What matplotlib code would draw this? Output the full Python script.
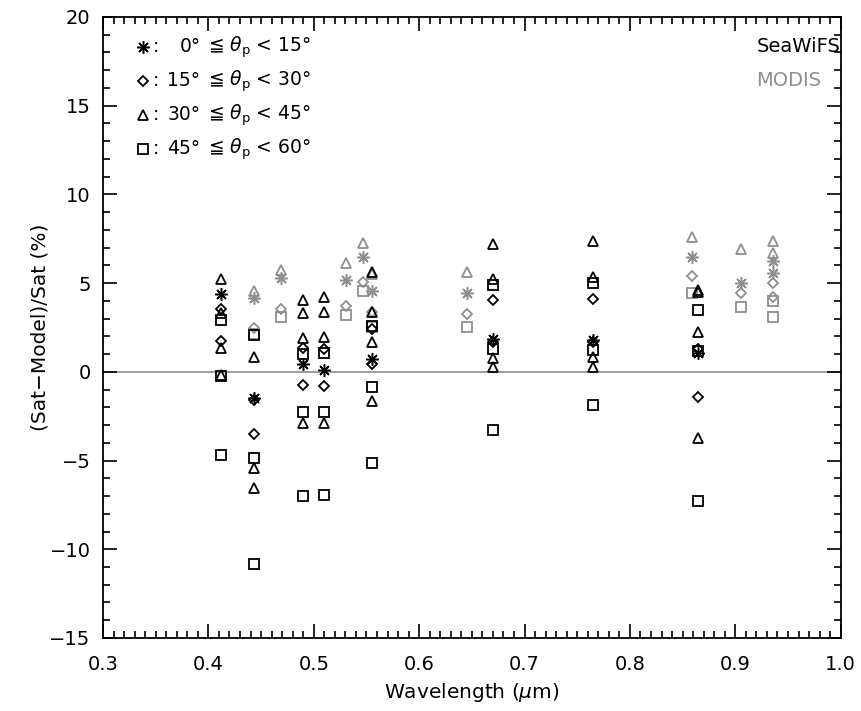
import matplotlib
matplotlib.use("Agg")
import matplotlib.pyplot as plt
from matplotlib.ticker import MultipleLocator

plt.rcParams['font.family'] = ['DejaVu Sans']
plt.rcParams['mathtext.fontset'] = 'dejavusans'

# ---------------- data ----------------
# SeaWiFS (black)
sea_star_wl = [0.412, 0.443, 0.490, 0.510, 0.555, 0.670, 0.765, 0.865]
sea_star_val = [4.4, -1.45, 0.45, 0.1, 0.7, 1.84, 1.8, 1.05]

sea_diam_wl = [0.412, 0.412, 0.443, 0.443, 0.490, 0.490, 0.510, 0.510,
               0.555, 0.555, 0.670, 0.670, 0.765, 0.765, 0.865, 0.865]
sea_diam_val = [3.55, 1.75, -1.6, -3.49, 1.33, -0.72, 1.28, -0.79,
                2.4, 0.45, 4.06, 1.71, 4.1, 1.7, 1.3, -1.39]

sea_tri_wl = [0.412, 0.412, 0.412, 0.412, 0.443, 0.443, 0.443,
              0.490, 0.490, 0.490, 0.490, 0.510, 0.510, 0.510, 0.510,
              0.555, 0.555, 0.555, 0.555, 0.670, 0.670, 0.670, 0.670,
              0.765, 0.765, 0.765, 0.765, 0.865, 0.865, 0.865, 0.865]
sea_tri_val = [5.25, 3.3, 1.35, -0.2, 0.86, -5.43, -6.52,
               4.06, 3.31, 1.92, -2.87, 4.24, 3.4, 1.95, -2.89,
               5.65, 3.35, 1.71, -1.67, 7.2, 5.22, 0.77, 0.3,
               7.4, 5.37, 0.86, 0.3, 4.62, 4.5, 2.27, -3.74]

sea_sq_wl = [0.412, 0.412, 0.412, 0.443, 0.443, 0.443, 0.490, 0.490, 0.490,
             0.510, 0.510, 0.510, 0.555, 0.555, 0.555, 0.670, 0.670, 0.670,
             0.765, 0.765, 0.765, 0.865, 0.865, 0.865]
sea_sq_val = [2.95, -0.22, -4.71, 2.1, -4.87, -10.82, 1.0, -2.24, -6.99,
              1.09, -2.24, -6.93, 2.6, -0.85, -5.15, 4.9, 1.28, -3.27,
              5.0, 1.24, -1.86, 3.46, 1.15, -7.27]

# MODIS (gray)
mod_wl = [0.443, 0.469, 0.531, 0.547, 0.555, 0.645, 0.859, 0.905, 0.936, 0.936]
mod_star_val = [4.15, 5.28, 5.18, 6.5, 4.58, 4.43, 6.5, 5.0, 6.27, 5.56]
mod_diam_val = [2.45, 3.53, 3.72, 5.09, 3.4, 3.27, 5.41, 4.47, 5.0, 4.24]
mod_tri_val = [4.53, 5.75, 6.12, 7.29, 5.5, 5.65, 7.6, 6.91, 7.4, 6.72]
mod_sq_val = [2.14, 3.08, 3.21, 4.53, 2.55, 2.55, 4.47, 3.68, 4.02, 3.08]

legend_lower = ['0°', '15°', '30°', '45°']
legend_upper = ['15°', '30°', '45°', '60°']

# ---------------- style ----------------
BLACK = 'black'
GRAY = '#8e8e8e'
STAR = (8, 2, 0)
mstyle = {
    'star': dict(marker=STAR, ms=9, mew=1.1),
    'diam': dict(marker='D', ms=5.2, mew=1.3),
    'tri': dict(marker='^', ms=7.8, mew=1.3),
    'sq': dict(marker='s', ms=7.6, mew=1.3),
}

fig = plt.figure(figsize=(8.62, 7.11), dpi=100)
ax = fig.add_axes([0.1195, 0.1027, 0.8558, 0.8734])

ax.axhline(0, color=GRAY, lw=1.2, zorder=1)

def pts(wl, val, kind, color):
    ax.plot(wl, val, ls='none', mfc='none', mec=color, color=color,
            zorder=3, **mstyle[kind])

pts(mod_wl, mod_star_val, 'star', GRAY)
pts(mod_wl, mod_diam_val, 'diam', GRAY)
pts(mod_wl, mod_tri_val, 'tri', GRAY)
pts(mod_wl, mod_sq_val, 'sq', GRAY)

pts(sea_star_wl, sea_star_val, 'star', BLACK)
pts(sea_diam_wl, sea_diam_val, 'diam', BLACK)
pts(sea_tri_wl, sea_tri_val, 'tri', BLACK)
pts(sea_sq_wl, sea_sq_val, 'sq', BLACK)

ax.set_xlim(0.3, 1.0)
ax.set_ylim(-15, 20)
ax.xaxis.set_major_locator(MultipleLocator(0.1))
ax.xaxis.set_minor_locator(MultipleLocator(0.01))
ax.yaxis.set_major_locator(MultipleLocator(5))
ax.yaxis.set_minor_locator(MultipleLocator(1))
ax.xaxis.set_major_formatter(plt.FuncFormatter(lambda v, p: f'{v:.1f}'))
ax.yaxis.set_major_formatter(plt.FuncFormatter(
    lambda v, p: f'{int(round(v))}'.replace('-', '\u2212')))
ax.tick_params(which='both', direction='in', top=True, right=True,
               labelsize=14, width=1.2, colors='black')
ax.tick_params(axis='x', pad=12)
ax.tick_params(axis='y', pad=9)
ax.tick_params(which='major', length=10)
ax.tick_params(which='minor', length=5)
for s in ax.spines.values():
    s.set_linewidth(1.3)

ax.set_xlabel(r'Wavelength ($\mu$m)', fontsize=14.5, labelpad=5)
ax.set_ylabel('(Sat\u2212Model)/Sat (%)', fontsize=14.5, labelpad=0)

# legend (manual)
kinds = ['star', 'diam', 'tri', 'sq']
for i, (k, lo, hi) in enumerate(zip(kinds, legend_lower, legend_upper)):
    y = 0.952 - i * 0.0548
    ax.plot([0.054], [y], transform=ax.transAxes, ls='none', mfc='none',
            mec=BLACK, clip_on=False, **mstyle[k])
    ax.text(0.068, y, ':', transform=ax.transAxes, fontsize=13.5,
            va='center', ha='left')
    ax.text(0.132, y, lo, transform=ax.transAxes,
            fontsize=13.5, va='center', ha='right')
    ax.text(0.142, y, r'≦ $\theta_{\mathrm{p}}$ < ' + hi,
            transform=ax.transAxes, fontsize=13.5, va='center', ha='left')

ax.text(0.886, 0.952, 'SeaWiFS', transform=ax.transAxes, fontsize=14,
        color=BLACK, va='center', ha='left')
ax.text(0.886, 0.897, 'MODIS', transform=ax.transAxes, fontsize=14,
        color=GRAY, va='center', ha='left')

fig.savefig('out.png', dpi=100)
